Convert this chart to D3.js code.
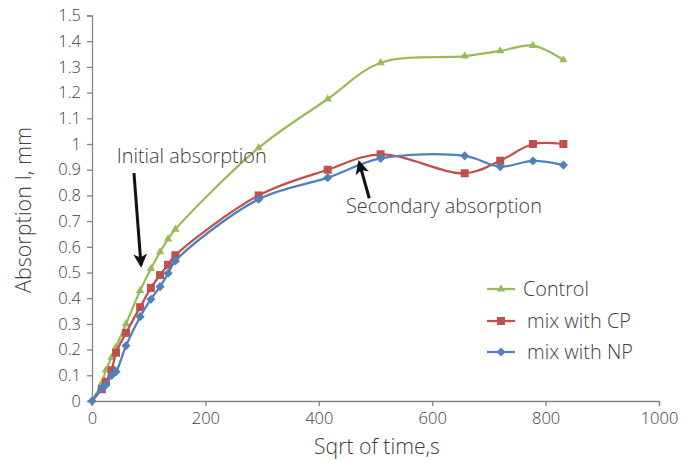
<!DOCTYPE html>
<html>
<head>
<meta charset="utf-8">
<script src="https://cdn.jsdelivr.net/npm/d3@7"></script>
<style>
  html, body { margin: 0; padding: 0; background: #fff; }
  svg { display: block; }
  text { font-family: "Open Sans", Lato, sans-serif; font-weight: 300; fill: #404040; }
</style>
</head>
<body>
<svg id="chart" width="691" height="460"></svg>
<script>
// ---- data ----
const sqrtTime = [0, 17.3, 24.5, 34.6, 42.4, 60, 84.9, 103.9, 120, 134.2, 147, 293.9, 415.7, 509.1, 657.3, 720, 777.7, 831.4];
const control  = [0, 0.07, 0.12, 0.17, 0.21, 0.30, 0.43, 0.515, 0.58, 0.63, 0.668, 0.985, 1.175, 1.316, 1.342, 1.362, 1.383, 1.327];
const mixCP    = [0, 0.046, 0.075, 0.12, 0.188, 0.265, 0.365, 0.44, 0.49, 0.53, 0.567, 0.80, 0.90, 0.96, 0.886, 0.935, 1.0, 1.0];
const mixNP    = [0, 0.05, 0.062, 0.10, 0.114, 0.215, 0.328, 0.396, 0.445, 0.497, 0.545, 0.785, 0.869, 0.944, 0.954, 0.912, 0.934, 0.918];
const seriesNames = ["Control", "mix with CP", "mix with NP"];
const xTickValues = [0, 200, 400, 600, 800, 1000];
const xTickLabels = ["0", "200", "400", "600", "800", "1000"];
const yTickValues = [0, 0.1, 0.2, 0.3, 0.4, 0.5, 0.6, 0.7, 0.8, 0.9, 1.0, 1.1, 1.2, 1.3, 1.4, 1.5];
const yTickLabels = ["0", "0.1", "0.2", "0.3", "0.4", "0.5", "0.6", "0.7", "0.8", "0.9", "1", "1.1", "1.2", "1.3", "1.4", "1.5"];
const xTitle = "Sqrt of time,s";
const yTitle = "Absorption I, mm";
// annotations in data units: [x, y]
const note1 = { text: "Initial absorption", at: [43.6, 0.925], from: [74, 0.887], to: [86.4, 0.529] };
const note2 = { text: "Secondary absorption", at: [448, 0.73], from: [489, 0.789], to: [471.4, 0.927] };

// ---- layout ----
const svg = d3.select("#chart");
const x = d3.scaleLinear().domain([0, 1000]).range([92, 659]);
const y = d3.scaleLinear().domain([0, 1.5]).range([401, 15.5]);
const axisColor = "#868686";
const colors = ["#9BBB59", "#C0504D", "#4F81BD"];
const shapes = [d3.symbolTriangle, d3.symbolSquare, d3.symbolSquare];
const sizes = [30, 64, 42];
const rotations = [0, 0, 45];

// fit text to a target width (layout helper)
function fit(sel, w) {
  const len = sel.node().getComputedTextLength();
  const fs = parseFloat(sel.attr("font-size"));
  sel.attr("font-size", fs * w / len);
}

// axes
const xAxis = svg.append("g").attr("transform", `translate(0,${y(0)})`)
  .call(d3.axisBottom(x).tickValues(xTickValues).tickFormat((d, i) => xTickLabels[i]).tickSizeOuter(0).tickSize(5).tickPadding(6));
const yAxis = svg.append("g").attr("transform", `translate(${x(0)},0)`)
  .call(d3.axisLeft(y).tickValues(yTickValues).tickFormat((d, i) => yTickLabels[i]).tickSizeOuter(0).tickSize(5).tickPadding(6));
[xAxis, yAxis].forEach(g => {
  g.select(".domain").attr("stroke", axisColor).attr("stroke-width", 1.3);
  g.selectAll(".tick line").attr("stroke", axisColor).attr("stroke-width", 1.3);
  g.selectAll(".tick text").attr("font-size", 16.5).attr("font-weight", 300)
    .attr("font-family", "'Open Sans', sans-serif").attr("fill", "#404040");
});

// axis titles
fit(svg.append("text").attr("x", 377).attr("y", 454).attr("text-anchor", "middle")
  .attr("font-size", 18).text(xTitle), 126);
fit(svg.append("text").attr("transform", "translate(31,210) rotate(-90)").attr("text-anchor", "middle")
  .attr("font-size", 18).text(yTitle), 166);

// series
const allSeries = [control, mixCP, mixNP];
const line = d3.line().x(d => x(d[0])).y(d => y(d[1])).curve(d3.curveCatmullRom.alpha(0.5));
allSeries.forEach((vals, si) => {
  const pts = sqrtTime.map((t, i) => [t, vals[i]]);
  const g = svg.append("g");
  g.append("path").attr("d", line(pts)).attr("fill", "none")
    .attr("stroke", colors[si]).attr("stroke-width", 2.25);
  // origin point is shared; only the top series shows its marker there
  const mpts = si === allSeries.length - 1 ? pts : pts.filter(d => d[0] > 0);
  g.selectAll("path.m").data(mpts).join("path").attr("class", "m")
    .attr("d", d3.symbol().type(shapes[si]).size(sizes[si]))
    .attr("transform", d => `translate(${x(d[0])},${y(d[1])}) rotate(${rotations[si]})`)
    .attr("fill", colors[si]);
});

// annotations
const defs = svg.append("defs");
defs.append("marker").attr("id", "ah").attr("viewBox", "0 0 10 10").attr("refX", 8).attr("refY", 5)
  .attr("markerWidth", 4.6).attr("markerHeight", 4.6).attr("orient", "auto")
  .append("path").attr("d", "M0,0 L10,5 L0,10 L2.5,5 Z").attr("fill", "#111");
[note1, note2].forEach((n, k) => {
  svg.append("line").attr("x1", x(n.from[0])).attr("y1", y(n.from[1]))
    .attr("x2", x(n.to[0])).attr("y2", y(n.to[1]))
    .attr("stroke", "#111").attr("stroke-width", 3).attr("marker-end", "url(#ah)");
  fit(svg.append("text").attr("x", x(n.at[0])).attr("y", y(n.at[1]))
    .attr("font-size", 18).text(n.text), k === 0 ? 150 : 196);
});

// legend
const legend = svg.append("g");
const legendY = [289, 321, 352];
const legendTextX = [523, 527, 527];
const legendW = [66, 104, 106];
seriesNames.forEach((name, si) => {
  legend.append("line").attr("x1", 487).attr("x2", 515).attr("y1", legendY[si]).attr("y2", legendY[si])
    .attr("stroke", colors[si]).attr("stroke-width", 2.25);
  legend.append("path").attr("d", d3.symbol().type(shapes[si]).size(sizes[si]))
    .attr("transform", `translate(501,${legendY[si]}) rotate(${rotations[si]})`).attr("fill", colors[si]);
  fit(legend.append("text").attr("x", legendTextX[si]).attr("y", legendY[si]).attr("dy", "0.35em")
    .attr("font-size", 17).text(name), legendW[si]);
});
</script>
</body>
</html>
